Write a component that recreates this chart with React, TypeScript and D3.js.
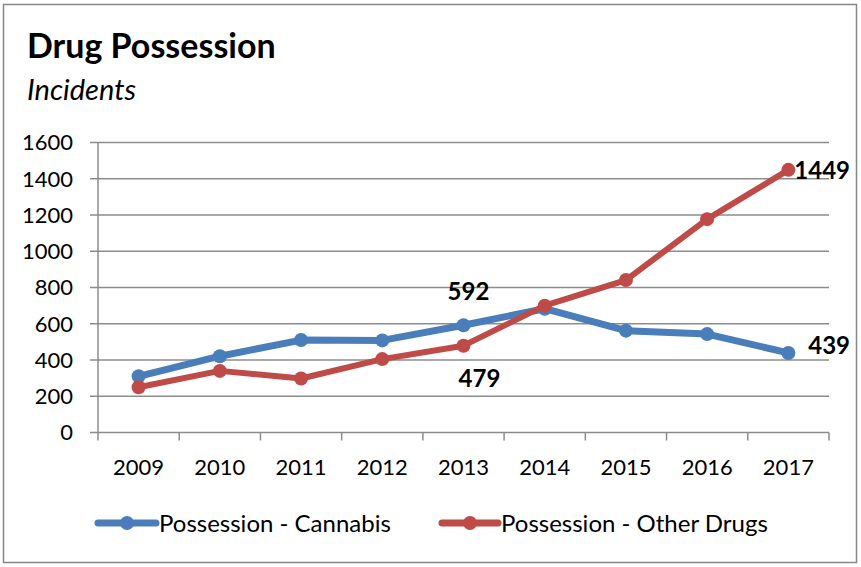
import React from "react";
import * as d3 from "d3";

const years = ["2009", "2010", "2011", "2012", "2013", "2014", "2015", "2016", "2017"];
const cannabis = [310, 421, 510, 508, 592, 683, 562, 543, 439];
const otherDrugs = [250, 340, 298, 405, 479, 700, 841, 1177, 1449];
const yTicks = [0, 200, 400, 600, 800, 1000, 1200, 1400, 1600];
const seriesNames = ["Possession - Cannabis", "Possession - Other Drugs"];
const seriesColors = ["#4A7EBB", "#BE4B48"];

const W = 861;
const H = 567;
const FONT = "Lato, 'Open Sans', sans-serif";

export default function App() {
  const x = d3.scaleBand<string>().domain(years).range([98, 829]).padding(0);
  const y = d3.scaleLinear().domain([0, 1600]).range([432.5, 142.5]);
  const cx = (d: string) => (x(d) as number) + x.bandwidth() / 2;
  const line = d3
    .line<number>()
    .x((_, i) => cx(years[i]))
    .y((v) => y(v));
  const series = [cannabis, otherDrugs];
  const grid = "#8C8C8C";

  const bounds = years.map((d) => x(d) as number).concat([829]);

  return (
    <svg
      width={W}
      height={H}
      style={{ position: "absolute", left: 0, top: 0, background: "#fff" }}
      fontFamily={FONT}
    >
      <rect x={3.5} y={4.5} width={853} height={558} fill="#fff" stroke="#878787" strokeWidth={1.5} />
      <text x={27} y={58} fontSize={34} fontWeight={700} fill="#000">
        Drug Possession
      </text>
      <text x={27} y={100} fontSize={29} fontStyle="italic" fill="#000">
        Incidents
      </text>

      {yTicks.map((t) => (
        <g key={t}>
          <line x1={90} x2={829} y1={y(t)} y2={y(t)} stroke={grid} strokeWidth={1.5} />
          <text x={73} y={y(t)} dy="0.36em" textAnchor="end" fontSize={22} fill="#000">
            {t}
          </text>
        </g>
      ))}
      <line x1={98} x2={98} y1={y(1600)} y2={y(0)} stroke={grid} strokeWidth={1.5} />
      {bounds.map((b, i) => (
        <line key={i} x1={b} x2={b} y1={y(0)} y2={y(0) + 8} stroke={grid} strokeWidth={1.5} />
      ))}
      {years.map((d) => (
        <text key={d} x={cx(d)} y={467} dy="0.36em" textAnchor="middle" fontSize={22} fill="#000">
          {d}
        </text>
      ))}

      {series.map((s, si) => (
        <g key={si}>
          <path
            d={line(s) as string}
            fill="none"
            stroke={seriesColors[si]}
            strokeWidth={si === 0 ? 7 : 6}
            strokeLinejoin="round"
          />
          {s.map((v, i) => (
            <circle key={i} cx={cx(years[i])} cy={y(v)} r={7} fill={seriesColors[si]} />
          ))}
        </g>
      ))}

      {/* data labels */}
      <text x={cx("2013") + 5} y={y(cannabis[4]) - 25} textAnchor="middle" fontSize={24} fontWeight={700}>
        {cannabis[4]}
      </text>
      <text x={cx("2013") + 16} y={y(otherDrugs[4]) + 41} textAnchor="middle" fontSize={24} fontWeight={700}>
        {otherDrugs[4]}
      </text>
      <text x={850} y={y(otherDrugs[8]) + 9} textAnchor="end" fontSize={24} fontWeight={700}>
        {otherDrugs[8]}
      </text>
      <text x={850} y={y(cannabis[8]) + 1} textAnchor="end" fontSize={24} fontWeight={700}>
        {cannabis[8]}
      </text>

      {/* legend */}
      {[{ x0: 98, x1: 156, tx: 159 }, { x0: 442, x1: 498, tx: 501 }].map((p, i) => (
        <g key={i}>
          <line x1={p.x0} x2={p.x1} y1={523} y2={523} stroke={seriesColors[i]} strokeWidth={7} strokeLinecap="round" />
          <circle cx={(p.x0 + p.x1) / 2} cy={523} r={7} fill={seriesColors[i]} />
          <text x={p.tx} y={523} dy="0.36em" fontSize={24} fill="#000">
            {seriesNames[i]}
          </text>
        </g>
      ))}
    </svg>
  );
}
